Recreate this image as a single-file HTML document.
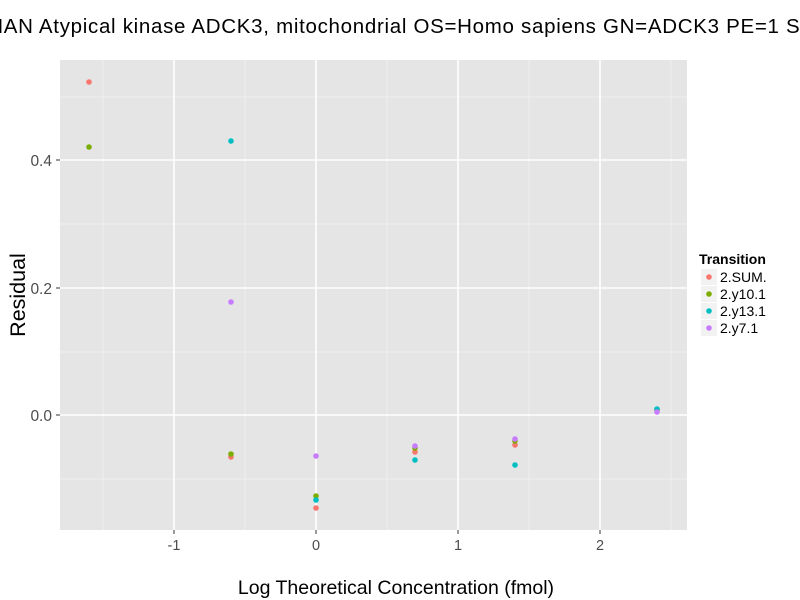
<!DOCTYPE html>
<html><head><meta charset="utf-8"><style>body{margin:0;background:#fff}svg{display:block;font-family:"Liberation Sans",sans-serif}</style></head><body>
<svg width="800" height="600" xmlns="http://www.w3.org/2000/svg">
<rect width="800" height="600" fill="#fff"/>
<text x="-45" y="33" font-size="20.5" letter-spacing="0.7" fill="#000">HUMAN Atypical kinase ADCK3, mitochondrial OS=Homo sapiens GN=ADCK3 PE=1 SV=1</text>
<rect x="60" y="60" width="627" height="470" fill="#e5e5e5"/>
<g stroke="#f2f2f2" stroke-width="0.8">
<line x1="103" y1="60" x2="103" y2="530"/><line x1="245" y1="60" x2="245" y2="530"/><line x1="387" y1="60" x2="387" y2="530"/><line x1="529" y1="60" x2="529" y2="530"/><line x1="671" y1="60" x2="671" y2="530"/>
<line x1="60" y1="97" x2="687" y2="97"/><line x1="60" y1="224" x2="687" y2="224"/><line x1="60" y1="352" x2="687" y2="352"/><line x1="60" y1="479" x2="687" y2="479"/>
</g>
<g stroke="#fff" stroke-width="1.6">
<line x1="174" y1="60" x2="174" y2="530"/><line x1="316" y1="60" x2="316" y2="530"/><line x1="458" y1="60" x2="458" y2="530"/><line x1="600" y1="60" x2="600" y2="530"/>
<line x1="60" y1="160" x2="687" y2="160"/><line x1="60" y1="288" x2="687" y2="288"/><line x1="60" y1="415" x2="687" y2="415"/>
</g>
<g stroke="#333" stroke-width="1">
<line x1="174" y1="530" x2="174" y2="534"/><line x1="316" y1="530" x2="316" y2="534"/><line x1="458" y1="530" x2="458" y2="534"/><line x1="600" y1="530" x2="600" y2="534"/>
<line x1="56" y1="160" x2="60" y2="160"/><line x1="56" y1="288" x2="60" y2="288"/><line x1="56" y1="415" x2="60" y2="415"/>
</g>
<g font-size="14.5" fill="#4d4d4d" text-anchor="middle">
<text x="174" y="550">-1</text><text x="316" y="550">0</text><text x="458" y="550">1</text><text x="600" y="550">2</text>
</g>
<g font-size="15.5" fill="#4d4d4d" text-anchor="end">
<text x="52" y="166">0.4</text><text x="52" y="294">0.2</text><text x="52" y="421">0.0</text>
</g>
<text x="396" y="594" font-size="19.5" text-anchor="middle">Log Theoretical Concentration (fmol)</text>
<text transform="translate(25,295) rotate(-90)" font-size="21.5" text-anchor="middle">Residual</text>
<g>
<circle cx="89" cy="82" r="2.8" fill="#F8766D"/><circle cx="89" cy="147" r="2.8" fill="#7CAE00"/>
<circle cx="231" cy="457" r="2.8" fill="#F8766D"/><circle cx="231" cy="454" r="2.8" fill="#7CAE00"/><circle cx="231" cy="141" r="2.8" fill="#00BFC4"/><circle cx="231" cy="302" r="2.8" fill="#C77CFF"/>
<circle cx="316" cy="508" r="2.8" fill="#F8766D"/><circle cx="316" cy="496" r="2.8" fill="#7CAE00"/><circle cx="316" cy="500" r="2.8" fill="#00BFC4"/><circle cx="316" cy="456" r="2.8" fill="#C77CFF"/>
<circle cx="415" cy="452" r="2.8" fill="#F8766D"/><circle cx="415" cy="448" r="2.8" fill="#7CAE00"/><circle cx="415" cy="460" r="2.8" fill="#00BFC4"/><circle cx="415" cy="446" r="2.8" fill="#C77CFF"/>
<circle cx="515" cy="445" r="2.8" fill="#F8766D"/><circle cx="515" cy="441" r="2.8" fill="#7CAE00"/><circle cx="515" cy="465" r="2.8" fill="#00BFC4"/><circle cx="515" cy="439" r="2.8" fill="#C77CFF"/>
<circle cx="657" cy="410" r="2.8" fill="#F8766D"/><circle cx="657" cy="410" r="2.8" fill="#7CAE00"/><circle cx="657" cy="409" r="2.8" fill="#00BFC4"/><circle cx="657" cy="412" r="2.8" fill="#C77CFF"/>
</g>
<text x="699" y="264" font-size="14" font-weight="bold">Transition</text>
<g fill="#f2f2f2">
<rect x="701" y="269" width="16" height="16"/><rect x="701" y="286" width="16" height="16"/><rect x="701" y="303" width="16" height="16"/><rect x="701" y="320" width="16" height="16"/>
</g>
<circle cx="709" cy="277" r="2.8" fill="#F8766D"/><circle cx="709" cy="294" r="2.8" fill="#7CAE00"/><circle cx="709" cy="311" r="2.8" fill="#00BFC4"/><circle cx="709" cy="328" r="2.8" fill="#C77CFF"/>
<g font-size="14">
<text x="720" y="282">2.SUM.</text><text x="720" y="299">2.y10.1</text><text x="720" y="316">2.y13.1</text><text x="720" y="333">2.y7.1</text>
</g>
</svg>
</body></html>
